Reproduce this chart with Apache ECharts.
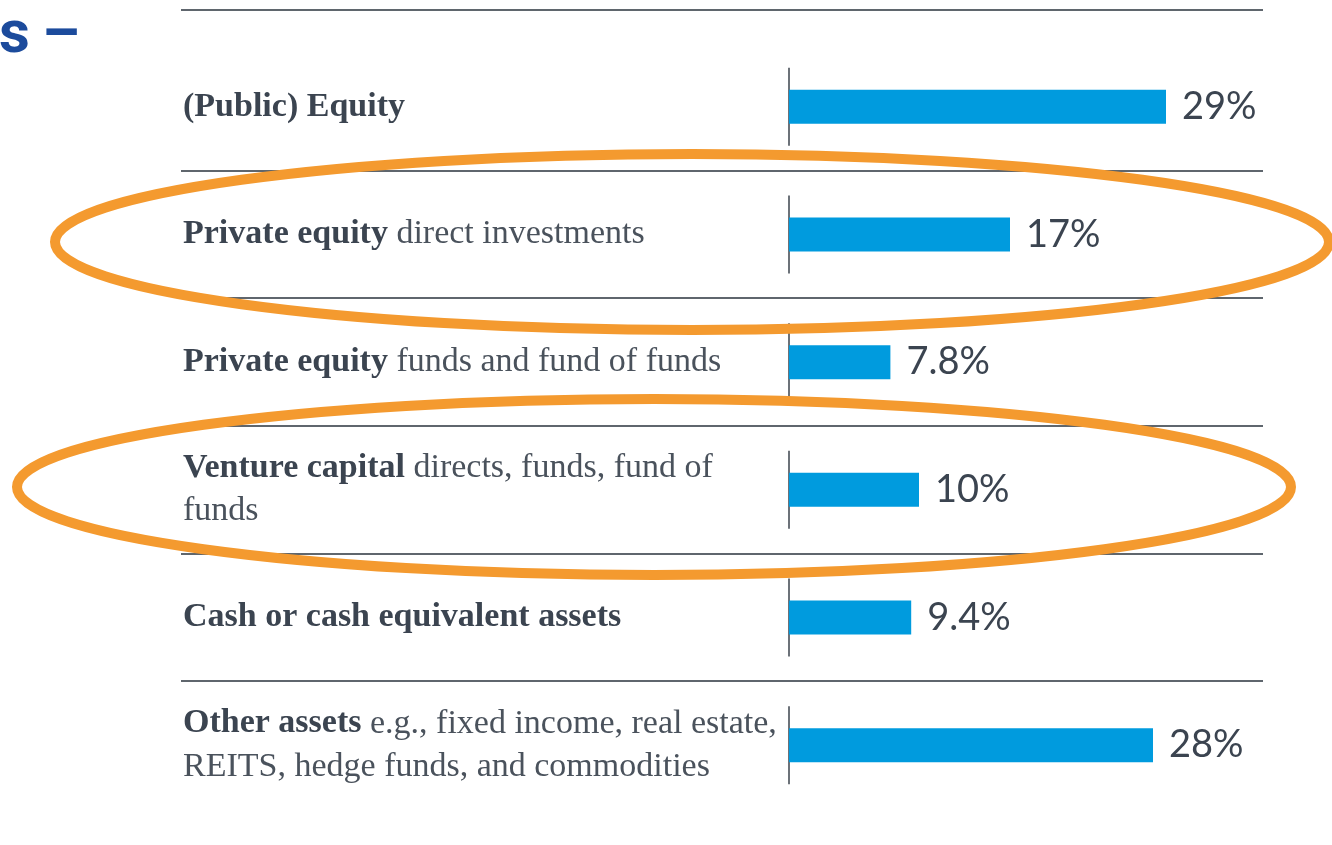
<!DOCTYPE html>
<html>
<head>
<meta charset="utf-8">
<script src="https://cdn.jsdelivr.net/npm/echarts@6/dist/echarts.min.js"></script>
<style>
  html, body { margin: 0; padding: 0; background: #fff; }
  #chart { width: 1332px; height: 845px; }
</style>
</head>
<body>
<div id="chart"></div>
<script>
    // row labels: bold lead + regular rest ("\n" = forced line break)
    const boldParts = [
        '(Public) Equity',
        'Private equity',
        'Private equity',
        'Venture capital',
        'Cash or cash equivalent assets',
        'Other assets'
    ];
    const restParts = [
        '',
        'direct investments',
        'funds and fund of funds',
        'directs, funds, fund of\nfunds',
        '',
        'e.g., fixed income, real estate,\nREITS, hedge funds, and commodities'
    ];
    const shares = [29, 17, 7.8, 10, 9.4, 28];

    const categories = boldParts.map((b, i) => b + ' ' + restParts[i]);

    const textDark = '#3b4450';
    const ruleColor = '#5f666d';

    const myChart = echarts.init(document.getElementById('chart'));

    function labelFormatter(value, idx) {
        let out = '{b|' + boldParts[idx] + '}';
        const rest = restParts[idx];
        if (rest) {
            const lines = rest.split('\n');
            out += '{r| ' + lines[0] + '}';
            for (let k = 1; k < lines.length; k++) {
                out += '\n{r|' + lines[k] + '}';
            }
        }
        return out;
    }

    // separators between rows and the short axis stub on each row
    function renderRow(params, api) {
        const i = api.value(1);
        const p = api.coord([0, i]);
        const band = api.size([0, 1])[1];
        const children = [
            {
                type: 'line',
                shape: { x1: p[0], y1: p[1] - 39, x2: p[0], y2: p[1] + 39 },
                style: { stroke: '#6c7279', lineWidth: 2 }
            }
        ];
        if (i > 0) {
            const y = Math.round(p[1] - band / 2);
            children.push({
                type: 'line',
                shape: { x1: 181, y1: y, x2: 1263, y2: y },
                style: { stroke: ruleColor, lineWidth: 2 }
            });
        }
        return { type: 'group', children: children };
    }

    const option = {
        backgroundColor: '#ffffff',
        animation: false,
        grid: {
            left: 789,
            right: 23,
            top: 43,
            bottom: 36
        },
        xAxis: {
            type: 'value',
            min: 0,
            max: 40,
            show: false
        },
        yAxis: {
            type: 'category',
            inverse: true,
            data: categories,
            axisLine: { show: false },
            axisTick: { show: false },
            splitLine: { show: false },
            axisLabel: {
                align: 'left',
                margin: 606,
                formatter: labelFormatter,
                rich: {
                    b: {
                        fontFamily: 'Liberation Serif',
                        fontWeight: 'bold',
                        fontSize: 34,
                        lineHeight: 43,
                        color: textDark
                    },
                    r: {
                        fontFamily: 'Liberation Serif',
                        fontSize: 34,
                        lineHeight: 43,
                        color: '#4a525c'
                    }
                }
            }
        },
        series: [
            {
                type: 'custom',
                renderItem: renderRow,
                data: shares.map((v, i) => [0, i]),
                silent: true,
                z: 1
            },
            {
                name: 'Share',
                type: 'bar',
                data: shares,
                barWidth: 34,
                z: 2,
                itemStyle: { color: '#009bde' },
                label: {
                    show: true,
                    position: 'right',
                    distance: 16,
                    formatter: '{c}%',
                    fontFamily: 'Lato',
                    fontSize: 38,
                    color: textDark
                }
            }
        ],
        graphic: [
            {
                type: 'text',
                left: -1,
                top: 7,
                style: {
                    text: 's\u2009\u2013',
                    font: 'bold 60px Roboto',
                    fill: '#1c4b9c'
                }
            },
            {
                type: 'line',
                shape: { x1: 181, y1: 10, x2: 1263, y2: 10 },
                style: { stroke: ruleColor, lineWidth: 2 }
            },
            {
                type: 'ellipse',
                shape: { cx: 692, cy: 242, rx: 637, ry: 88 },
                style: { fill: 'none', stroke: '#f49a2f', lineWidth: 10 },
                z: 10
            },
            {
                type: 'ellipse',
                shape: { cx: 654, cy: 487, rx: 637, ry: 88 },
                style: { fill: 'none', stroke: '#f49a2f', lineWidth: 10 },
                z: 10
            }
        ]
    };

    myChart.setOption(option);
</script>
</body>
</html>
